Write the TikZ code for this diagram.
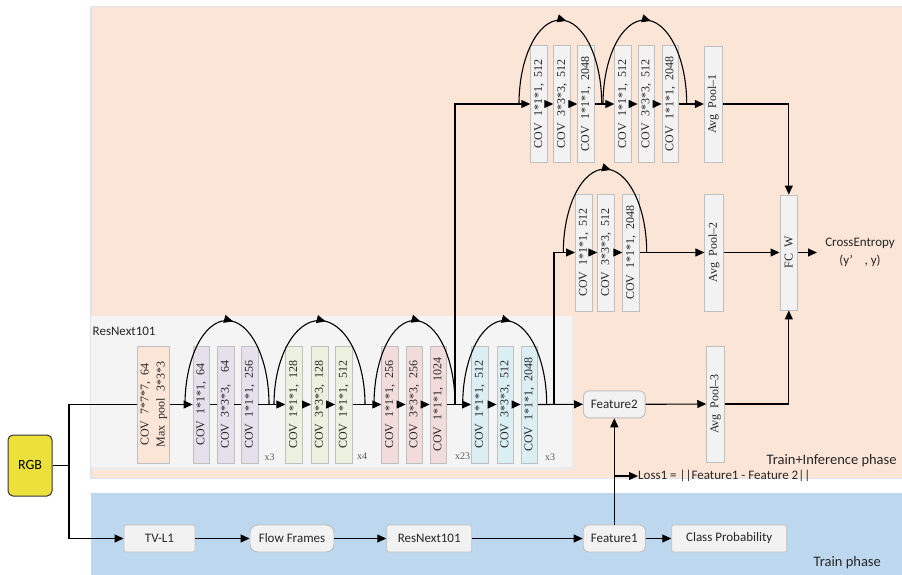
\documentclass[tikz,border=0pt]{standalone}
\usepackage{fontspec}
\setmainfont{Liberation Serif}
\newfontfamily\uisans{Carlito}
\newfontfamily\boxfont[WordSpace=2]{Liberation Serif}
\usetikzlibrary{arrows.meta,decorations.markings}

\definecolor{peach}{HTML}{FBE5D6}
\definecolor{trainblue}{HTML}{BDD7EE}
\definecolor{panelgray}{HTML}{F4F4F4}
\definecolor{edgeblue}{HTML}{DCE4F2}
\definecolor{boxgray}{HTML}{BFBFBF}
\definecolor{boxfill}{HTML}{F2F2F2}
\definecolor{lav}{HTML}{E6E0EC}
\definecolor{leaf}{HTML}{EBF1DE}
\definecolor{rose}{HTML}{F2DCDB}
\definecolor{aqua}{HTML}{DAEEF3}
\definecolor{rgbyellow}{HTML}{EBE13A}

% a convolution layer: name, fill, centre x, centre y, label
\newcommand{\convlayer}[5]{\node[layer, fill=#2] (#1) at (#3,#4) {\rotatebox{90}{#5}};}
% residual skip arc: left foot x, right foot x, base y, apex y
\newcommand{\skiparc}[4]{%
  \pgfmathsetmacro{\arcmid}{(#1+#2)/2}%
  \pgfmathsetmacro{\arckx}{0.5523*(#2-#1)/2}%
  \pgfmathsetmacro{\arcky}{0.5523*(#3-#4)}%
  \draw[skip] (#1,#3) .. controls (#1,#3-\arcky) and (\arcmid-\arckx,#4) .. (\arcmid,#4)
    .. controls (\arcmid+\arckx,#4) and (#2,#3-\arcky) .. (#2,#3);}

\begin{document}
\begin{tikzpicture}[x=1pt,y=-1pt,
  wire/.style={line width=1.1pt, black},
  conn/.style={wire, -{Triangle[length=9pt,width=8pt]}},
  skip/.style={wire, postaction={decorate},
    decoration={markings, mark=at position 0.53 with {\arrow{Triangle[length=9pt,width=8pt]}}}},
  layer/.style={draw=boxgray, line width=0.9pt, minimum width=16.5pt, minimum height=117pt,
    inner sep=0pt, font=\boxfont\fontsize{12}{16}\selectfont, text=black!85},
  rep/.style={anchor=west, font=\fontsize{10}{11}\selectfont, text=black!65, inner sep=0pt},
  stage/.style={draw=boxgray, line width=0.9pt, fill=boxfill, minimum height=27pt, inner sep=2pt,
    rounded corners=1.5pt, font=\uisans\fontsize{13}{15}\selectfont, text=black!85},
  softstage/.style={stage, rounded corners=6pt},
  caption/.style={font=\uisans\fontsize{13}{15}\selectfont, text=black!85, inner sep=0pt},
  phase/.style={font=\uisans\fontsize{14.5}{16}\selectfont, text=black!85, inner sep=0pt, anchor=west},
]
\useasboundingbox (0,0) rectangle (902,575);

% phase panels
\filldraw[fill=peach, draw=edgeblue, line width=1.2pt] (91,6.5) rectangle (903,478.5);
\fill[trainblue] (91,492.7) rectangle (903,576);
\fill[black!8] (93,318) rectangle (574,469.5);
\fill[panelgray] (91,316) rectangle (572,467);

% ResNext101 backbone
\node[phase, font=\uisans\fontsize{13}{15}\selectfont] (bbtitle) at (92.5,331) {ResNext101};
\node[layer, fill=peach, minimum width=32.4pt] (stem) at (153.5,404.5)
  {\rotatebox{90}{\begin{tabular}{@{}c@{}}COV 7*7*7, 64\\Max pool 3*3*3\end{tabular}}};

\convlayer{ga1}{lav}{201.3}{404.5}{COV 1*1*1, 64}
\convlayer{ga2}{lav}{225.7}{404.5}{COV 3*3*3,\ \ 64}
\convlayer{ga3}{lav}{249.7}{404.5}{COV 1*1*1, 256}
\convlayer{gb1}{leaf}{294}{404.5}{COV 1*1*1, 128}
\convlayer{gb2}{leaf}{319.7}{404.5}{COV 3*3*3, 128}
\convlayer{gb3}{leaf}{343.8}{404.5}{COV 1*1*1, 512}
\convlayer{gc1}{rose}{390}{404.5}{COV 1*1*1, 256}
\convlayer{gc2}{rose}{414.3}{404.5}{COV 3*3*3, 256}
\convlayer{gc3}{rose}{438.3}{404.5}{COV 1*1*1, 1024}
\convlayer{gd1}{aqua}{479.7}{404.5}{COV 1*1*1, 512}
\convlayer{gd2}{aqua}{505.3}{404.5}{COV 3*3*3, 512}
\convlayer{gd3}{aqua}{529.3}{404.5}{COV 1*1*1, 2048}

\node[rep] (ra) at (264.5,457) {x3};
\node[rep] (rb) at (357,456) {x4};
\node[rep] (rc) at (455,456) {x23};
\node[rep] (rd) at (545,457) {x3};

% upper head
\convlayer{ua1}{boxfill}{539}{104}{COV 1*1*1, 512}
\convlayer{ua2}{boxfill}{562}{104}{COV 3*3*3, 512}
\convlayer{ua3}{boxfill}{586}{104}{COV 1*1*1, 2048}
\convlayer{ub1}{boxfill}{623}{104}{COV 1*1*1, 512}
\convlayer{ub2}{boxfill}{646.3}{104}{COV 3*3*3, 512}
\convlayer{ub3}{boxfill}{670.3}{104}{COV 1*1*1, 2048}
\node[layer, fill=boxfill, minimum width=18pt, minimum height=116pt] (pool1) at (713.3,104) {\rotatebox{90}{Avg Pool–1}};

% middle head
\convlayer{ma1}{boxfill}{583.7}{252.5}{COV 1*1*1, 512}
\convlayer{ma2}{boxfill}{606}{252.5}{COV 3*3*3, 512}
\convlayer{ma3}{boxfill}{631}{252.5}{COV 1*1*1, 2048}
\node[layer, fill=boxfill, minimum width=18.3pt] (pool2) at (714,252.5) {\rotatebox{90}{Avg Pool–2}};

% lower head and classifier
\node[softstage] (feat2) at (614.3,404.3) [minimum width=61.7pt] {Feature2};
\node[layer, fill=boxfill, minimum width=17.6pt, minimum height=116pt] (pool3) at (715.5,404) {\rotatebox{90}{Avg Pool–3}};
\node[layer, fill=boxfill, minimum width=17.7pt, minimum height=115pt] (fcw) at (788.8,252.5) {\rotatebox{90}{FC W}};
\coordinate (ceout) at (817,252.5);
\node[caption, align=center, font=\uisans\fontsize{13}{18}\selectfont] (ce) at (860,252) {CrossEntropy\\(y’\hspace{0.9em}, y)};

% input
\node[draw=black!80, line width=1pt, fill=rgbyellow, rounded corners=5pt, minimum width=44pt,
  minimum height=61pt, font=\uisans\fontsize{14}{16}\selectfont] (rgb) at (30,465.5) {RGB};
\coordinate (split) at (69,465.5);

% train branch
\node[stage, minimum width=71pt] (tvl1) at (159.5,538.5) {TV-L1};
\node[softstage, minimum width=84pt, rounded corners=8pt] (flow) at (292,538.5) {Flow Frames};
\node[stage, minimum width=85pt] (rnx) at (429.2,538.5) {ResNext101};
\node[softstage, minimum width=62.4pt] (feat1) at (614.3,538.5) {Feature1};
\node[stage, minimum width=115pt] (cls) at (729.2,538.5) {Class Probability};

\coordinate (lossj) at (614.3,476);
\node[caption, anchor=west] (loss) at (638,476) {Loss1 = ||Feature1 - Feature 2||};

\node[phase] (tiphase) at (766.5,460.5) {Train+Inference phase};
\node[phase] (tphase) at (813.5,562.5) {Train phase};

% ---- connectors ----
\draw[wire] (rgb.east) -- (split);
\draw[wire] (split) |- (stem.west);
\draw[conn] (split) |- (tvl1.west);

\draw[conn] (stem.east) -- (ga1.west);
\draw[wire] (ga1.east) -- (ga2.west);
\draw[wire] (ga2.east) -- (ga3.west);
\draw[conn] (ga3.east) -- (gb1.west);
\draw[conn] (gb1.east) -- (gb2.west);
\draw[conn] (gb2.east) -- (gb3.west);
\draw[conn] (gb3.east) -- (gc1.west);
\draw[conn] (gc1.east) -- (gc2.west);
\draw[conn] (gc2.east) -- (gc3.west);
\draw[conn] (gc3.east) -- (gd1.west);
\draw[conn] (gd1.east) -- (gd2.west);
\draw[conn] (gd2.east) -- (gd3.west);
\draw[conn] (gd3.east) -- (feat2.west);

\skiparc{185}{269}{404.5}{320.5}
\skiparc{274}{365}{404.5}{320.5}
\skiparc{374}{455}{404.5}{320.5}
\skiparc{462.7}{546.7}{404.5}{320.5}

% branch to the upper head
\coordinate (upj) at (455,404.5);
\draw[conn] (upj) |- (ua1.west);
\draw[conn] (ua1.east) -- (ua2.west);
\draw[conn] (ua2.east) -- (ua3.west);
\draw[conn] (ua3.east) -- (ub1.west);
\draw[conn] (ub1.east) -- (ub2.west);
\draw[conn] (ub2.east) -- (ub3.west);
\draw[conn] (ub3.east) -- (pool1.west);
\skiparc{519}{601.7}{104}{20}
\skiparc{603}{686.7}{104}{20}

% branch to the middle head
\coordinate (midj) at (554,404.5);
\draw[conn] (midj) |- (ma1.west);
\draw[conn] (ma1.east) -- (ma2.west);
\draw[conn] (ma2.east) -- (ma3.west);
\draw[conn] (ma3.east) -- (pool2.west);
\skiparc{563.3}{646.7}{252.5}{169}

% heads into the classifier
\draw[conn] (pool1.east) -| (fcw.north);
\draw[conn] (pool2.east) -- (fcw.west);
\draw[conn] (feat2.east) -- (pool3.west);
\draw[conn] (pool3.east) -| (fcw.south);
\draw[conn] (fcw.east) -- (ceout);

% train branch connectors
\draw[conn] (tvl1.east) -- (flow.west);
\draw[conn] (flow.east) -- (rnx.west);
\draw[conn] (rnx.east) -- (feat1.west);
\draw[conn] (feat1.east) -- (cls.west);
\draw[conn] (feat1.north) -- (feat2.south);
\draw[conn] (lossj) -- (loss.west);
\end{tikzpicture}
\end{document}
